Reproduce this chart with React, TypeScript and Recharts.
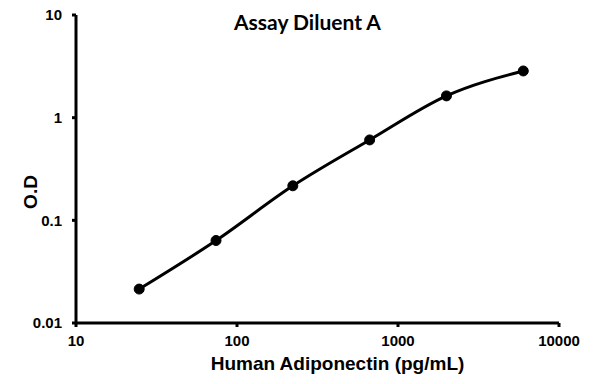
import { LineChart, Line, XAxis, YAxis, Label } from "recharts"

// 3-fold dilution series (pg/mL) and measured O.D
const concentrations = [24.69, 74.07, 222.2, 666.7, 2000, 6000]
const odValues = [0.0214, 0.0636, 0.217, 0.607, 1.63, 2.85]
const xTicks = [10, 100, 1000, 10000]
const yTicks = [0.01, 0.1, 1, 10]

const data = concentrations.map((c, i) => ({ conc: c, od: odValues[i] }))

const font = "'Liberation Sans', Arial, sans-serif"
const tickStyle = { fontSize: 15, fontWeight: 700, fill: "#000", fontFamily: font }
const labelStyle = { fontSize: 19, fontWeight: 700, fill: "#000", fontFamily: font }

export default function App() {
  return (
    <div style={{ position: "absolute", left: 0, top: 0, width: 595, height: 384, background: "#fff" }}>
      <div
        style={{
          position: "absolute",
          left: 234,
          top: 9,
          fontFamily: "Lato, sans-serif",
          fontWeight: 700,
          fontSize: 21,
          whiteSpace: "nowrap",
        }}
      >
        Assay Diluent A
      </div>
      <LineChart width={595} height={384} data={data} margin={{ top: 15, right: 36, bottom: 12, left: 16 }}>
        <XAxis
          dataKey="conc"
          type="number"
          scale="log"
          domain={[10, 10000]}
          ticks={xTicks}
          allowDataOverflow
          axisLine={{ stroke: "#000", strokeWidth: 3 }}
          tickLine={{ stroke: "#000", strokeWidth: 3 }}
          tickSize={4}
          tickMargin={8}
          tick={tickStyle}
          height={49}
        >
          <Label value="Human Adiponectin (pg/mL)" position="insideBottom" offset={2} dx={20} style={labelStyle} />
        </XAxis>
        <YAxis
          dataKey="od"
          type="number"
          scale="log"
          domain={[0.01, 10]}
          ticks={yTicks}
          allowDataOverflow
          axisLine={{ stroke: "#000", strokeWidth: 3 }}
          tickLine={{ stroke: "#000", strokeWidth: 3 }}
          tickSize={4}
          tickMargin={10}
          tick={tickStyle}
          width={60}
        >
          <Label
            value="O.D"
            angle={-90}
            position="insideLeft"
            offset={14}
            dy={23}
            style={{ ...labelStyle, textAnchor: "middle" }}
          />
        </YAxis>
        <Line
          type="monotone"
          dataKey="od"
          stroke="#000"
          strokeWidth={3}
          dot={{ r: 5, fill: "#000", stroke: "#000", strokeWidth: 1 }}
          isAnimationActive={false}
        />
      </LineChart>
    </div>
  )
}
